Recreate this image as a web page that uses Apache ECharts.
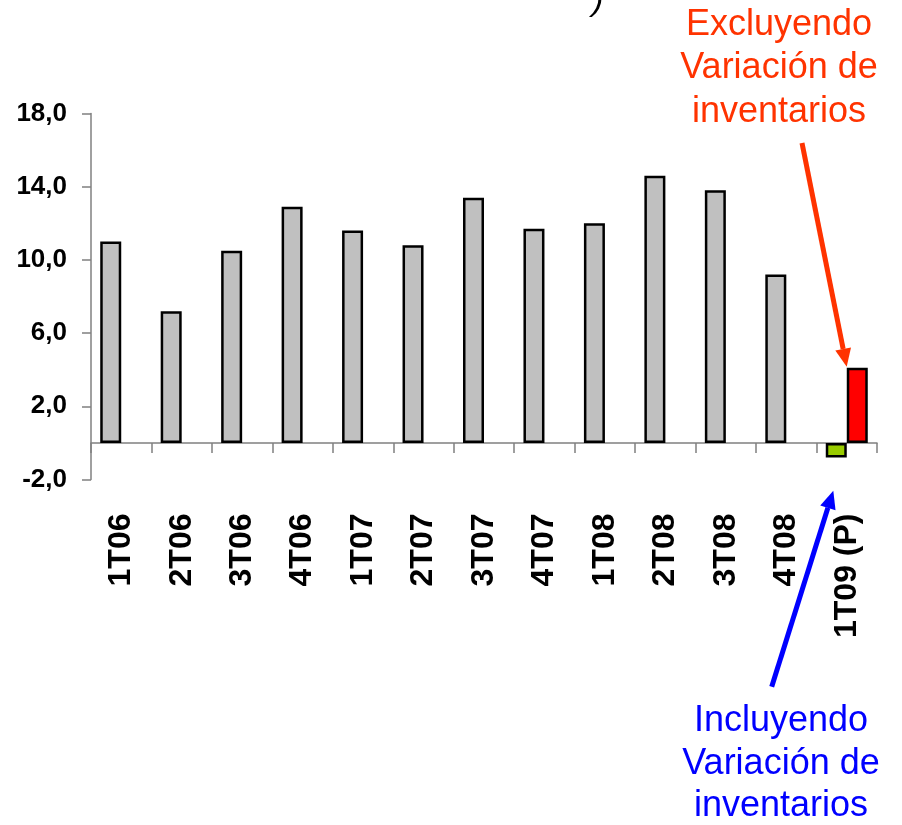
<!DOCTYPE html>
<html>
<head>
<meta charset="utf-8">
<script src="https://cdn.jsdelivr.net/npm/echarts@6/dist/echarts.min.js"></script>
<style>html,body{margin:0;padding:0;background:#fff;}#c{width:902px;height:825px;}</style>
</head>
<body>
<div id="c"></div>
<script>
const categories = ['1T06','2T06','3T06','4T06','1T07','2T07','3T07','4T07','1T08','2T08','3T08','4T08','1T09 (P)'];
const valuesIncl = [11.0, 7.2, 10.5, 12.9, 11.6, 10.8, 13.4, 11.7, 12.0, 14.6, 13.8, 9.2, -0.8];
const valuesExcl = [null, null, null, null, null, null, null, null, null, null, null, null, 4.1];
const yTickValues = [-2, 2, 6, 10, 14, 18];
const redLines = ['Excluyendo', 'Variación de', 'inventarios'];
const blueLines = ['Incluyendo', 'Variación de', 'inventarios'];

const FONT = "'Liberation Sans', Arial, sans-serif";
const chart = echarts.init(document.getElementById('c'), null, {renderer: 'canvas'});

function arrow(x1, y1, x2, y2, color) {
  const dx = x2 - x1, dy = y2 - y1;
  const len = Math.sqrt(dx * dx + dy * dy);
  const ux = dx / len, uy = dy / len;
  const hl = 18, hw = 8;
  const bx = x2 - ux * hl, by = y2 - uy * hl;
  const px = -uy, py = ux;
  return [
    {type: 'line', shape: {x1: x1, y1: y1, x2: bx, y2: by}, style: {stroke: color, lineWidth: 5}},
    {type: 'polygon', shape: {points: [[x2, y2], [bx + px * hw, by + py * hw], [bx - px * hw, by - py * hw]]}, style: {fill: color}}
  ];
}

function textBlock(lines, cx, ys, color) {
  return lines.map((t, i) => ({
    type: 'text', x: cx, y: ys[i],
    style: {text: t, fill: color, font: '36px ' + FONT, textAlign: 'center', textVerticalAlign: 'middle'}
  }));
}

const graphics = []
  .concat(textBlock(redLines, 779, [25, 68.5, 112], '#FF3300'))
  .concat(textBlock(blueLines, 781, [721, 764.5, 806], '#0000FF'))
  .concat(arrow(802, 143, 846.7, 366.7, '#FF3300'))
  .concat(arrow(771.7, 686.7, 833.3, 490.7, '#0000FF'))
  .concat([{type: 'text', x: 598, y: -16, style: {text: ')', fill: '#000', font: 'italic 34px ' + FONT, textAlign: 'center', textVerticalAlign: 'top'}}]);

const fmt = v => v.toFixed(1).replace('.', ',');

chart.setOption({
  animation: false,
  backgroundColor: '#fff',
  grid: {left: 91, right: 25, top: 113.5, bottom: 345.5},
  xAxis: {
    type: 'category',
    data: categories,
    boundaryGap: true,
    axisLine: {onZero: true, lineStyle: {color: '#808080', width: 1.5}},
    axisTick: {show: true, length: 10, inside: false, lineStyle: {color: '#808080', width: 1.5}},
    axisLabel: {rotate: 90, margin: 34, color: '#000', fontFamily: FONT, fontWeight: 'bold', fontSize: 32, interval: 0}
  },
  yAxis: {
    type: 'value',
    min: -2, max: 18, interval: 2,
    splitLine: {show: false},
    axisLine: {show: true, lineStyle: {color: '#808080', width: 1.5}},
    axisTick: {show: true, length: 9, customValues: yTickValues, lineStyle: {color: '#808080', width: 1.5}},
    axisLabel: {
      customValues: yTickValues, margin: 24, color: '#000', fontFamily: FONT, fontWeight: 'bold', fontSize: 26,
      formatter: v => (yTickValues.indexOf(v) >= 0 ? fmt(v) : '')
    }
  },
  series: [
    {
      type: 'bar', barWidth: 21, barGap: '0%',
      data: valuesIncl.map((v, i) => ({value: v, itemStyle: {color: i === valuesIncl.length - 1 ? '#99CC00' : '#C0C0C0'}})),
      itemStyle: {borderColor: '#000', borderWidth: 2.5}
    },
    {
      type: 'bar', barWidth: 21, barGap: '0%',
      data: valuesExcl.map(v => (v === null ? '-' : v)),
      itemStyle: {color: '#FF0000', borderColor: '#000', borderWidth: 2.5}
    }
  ],
  graphic: graphics
});
</script>
</body>
</html>
